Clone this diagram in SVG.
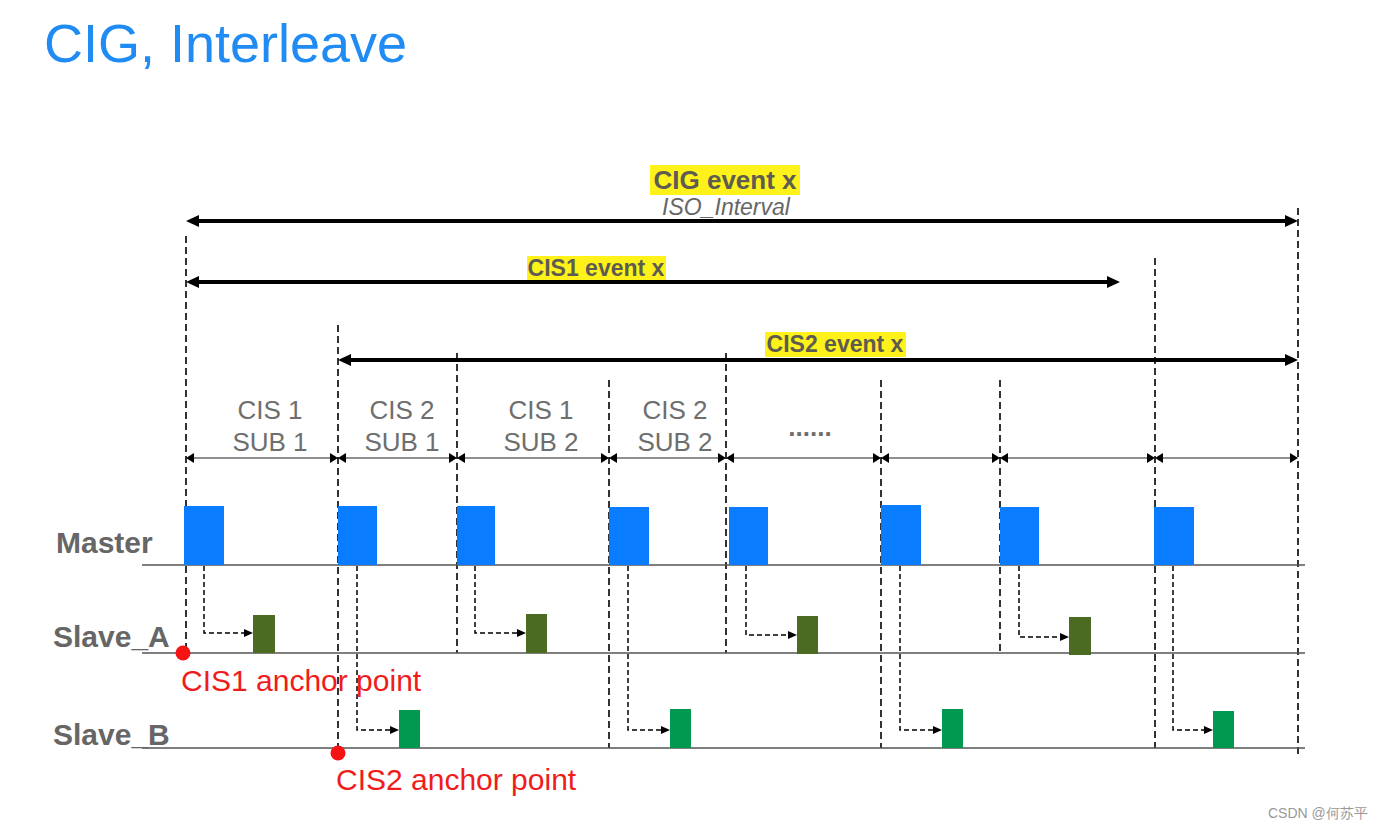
<svg xmlns="http://www.w3.org/2000/svg" width="1382" height="829" viewBox="0 0 1382 829">
<style>
text{font-family:"Liberation Sans",Arial,sans-serif}
.title{font-size:54px;fill:#1f8bf3}
.ev{font-weight:bold;fill:#5e5c50}
.hl{fill:#fff21a}
.iso{font-size:23px;font-style:italic;fill:#666}
.sub{font-size:26px;fill:#6e6e6e;text-anchor:middle}
.row{font-size:30px;font-weight:bold;fill:#666}
.red{font-size:30px;fill:#f01c1c}
.big{stroke:#000;stroke-width:4;fill:none;marker-start:url(#bh);marker-end:url(#bh)}
.thin{stroke:#6a6a6a;stroke-width:1.3;fill:none;marker-start:url(#th);marker-end:url(#th)}
.vd{stroke:#000;stroke-width:1.6;stroke-dasharray:7 4;fill:none}
.el{stroke:#000;stroke-width:1.5;stroke-dasharray:5 3;fill:none;marker-end:url(#eh)}
.base{stroke:#555;stroke-width:1.6}
.m{fill:#0a7cff}
.sa{fill:#4b6a22}
.sb{fill:#00994f}
.dot{fill:#f51414}
</style>
<defs>
<marker id="bh" markerUnits="userSpaceOnUse" markerWidth="14" markerHeight="14" refX="0" refY="7" orient="auto-start-reverse"><path d="M0,1 L13,7 L0,13 z" fill="#000"/></marker>
<marker id="th" markerUnits="userSpaceOnUse" markerWidth="9" markerHeight="12" refX="0" refY="6" orient="auto-start-reverse"><path d="M0,1 L8,6 L0,11 z" fill="#000"/></marker>
<marker id="eh" markerUnits="userSpaceOnUse" markerWidth="10" markerHeight="10" refX="0" refY="5" orient="auto"><path d="M0,1 L9,5 L0,9 z" fill="#000"/></marker>
</defs>
<rect width="1382" height="829" fill="#fff"/>
<text class="title" x="44" y="62">CIG, Interleave</text>

<g id="labels">
<rect class="hl" x="650" y="165" width="150" height="30"/>
<text class="ev" x="725" y="189" font-size="26" text-anchor="middle">CIG event x</text>
<text class="iso" x="726" y="215" text-anchor="middle">ISO_Interval</text>
<rect class="hl" x="527" y="256" width="139" height="24"/>
<text class="ev" x="596" y="276" font-size="23" text-anchor="middle">CIS1 event x</text>
<rect class="hl" x="765" y="332" width="141" height="25"/>
<text class="ev" x="835" y="352" font-size="23" text-anchor="middle">CIS2 event x</text>
</g>

<g id="connectors">
<line class="vd" x1="186" y1="236" x2="186" y2="650"/>
<line class="vd" x1="338" y1="325" x2="338" y2="750"/>
<line class="vd" x1="457" y1="353" x2="457" y2="653"/>
<line class="vd" x1="609" y1="380" x2="609" y2="748"/>
<line class="vd" x1="726" y1="353" x2="726" y2="653"/>
<line class="vd" x1="881" y1="380" x2="881" y2="748"/>
<line class="vd" x1="1000" y1="380" x2="1000" y2="653"/>
<line class="vd" x1="1155" y1="258" x2="1155" y2="748"/>
<line class="vd" x1="1298" y1="208" x2="1298" y2="754"/>

<line class="big" x1="199" y1="221" x2="1285" y2="221"/>
<line class="big" x1="199" y1="282" x2="1107" y2="282"/>
<line class="big" x1="351" y1="360" x2="1285" y2="360"/>

<line class="thin" x1="194" y1="458" x2="330" y2="458"/>
<line class="thin" x1="346" y1="458" x2="449" y2="458"/>
<line class="thin" x1="465" y1="458" x2="601" y2="458"/>
<line class="thin" x1="617" y1="458" x2="718" y2="458"/>
<line class="thin" x1="734" y1="458" x2="873" y2="458"/>
<line class="thin" x1="889" y1="458" x2="992" y2="458"/>
<line class="thin" x1="1008" y1="458" x2="1147" y2="458"/>
<line class="thin" x1="1163" y1="458" x2="1290" y2="458"/>

<line class="base" x1="142" y1="565" x2="1305" y2="565"/>
<line class="base" x1="142" y1="653" x2="1305" y2="653"/>
<line class="base" x1="142" y1="748" x2="1305" y2="748"/>

<path class="el" d="M204,566 V633 H244"/>
<path class="el" d="M475,566 V633 H517"/>
<path class="el" d="M746,566 V635 H788"/>
<path class="el" d="M1019,566 V637 H1060"/>
<path class="el" d="M357,566 V730 H390"/>
<path class="el" d="M628,566 V730 H661"/>
<path class="el" d="M900,566 V730 H933"/>
<path class="el" d="M1173,566 V730 H1204"/>
</g>

<g id="sublabels">
<text class="sub" x="270" y="419">CIS 1</text><text class="sub" x="270" y="451">SUB 1</text>
<text class="sub" x="402" y="419">CIS 2</text><text class="sub" x="402" y="451">SUB 1</text>
<text class="sub" x="541" y="419">CIS 1</text><text class="sub" x="541" y="451">SUB 2</text>
<text class="sub" x="675" y="419">CIS 2</text><text class="sub" x="675" y="451">SUB 2</text>
<text class="sub" x="810" y="436" font-weight="bold">......</text>
</g>

<g id="master">
<text class="row" x="56" y="553">Master</text>
<rect class="m" x="184" y="506" width="40" height="59"/>
<rect class="m" x="338" y="506" width="39" height="59"/>
<rect class="m" x="457" y="506" width="38" height="59"/>
<rect class="m" x="609" y="507" width="40" height="58"/>
<rect class="m" x="729" y="507" width="39" height="58"/>
<rect class="m" x="881" y="505" width="40" height="60"/>
<rect class="m" x="1000" y="507" width="39" height="58"/>
<rect class="m" x="1154" y="507" width="40" height="58"/>
</g>

<g id="slaveA">
<text class="row" x="53" y="647">Slave_A</text>
<rect class="sa" x="253" y="615" width="22" height="38"/>
<rect class="sa" x="526" y="614" width="21" height="39"/>
<rect class="sa" x="797" y="616" width="21" height="38"/>
<rect class="sa" x="1069" y="617" width="22" height="38"/>
</g>

<g id="slaveB">
<text class="row" x="53" y="745">Slave_B</text>
<rect class="sb" x="399" y="710" width="21" height="38"/>
<rect class="sb" x="670" y="709" width="21" height="39"/>
<rect class="sb" x="942" y="709" width="21" height="39"/>
<rect class="sb" x="1213" y="711" width="21" height="37"/>
</g>

<g id="anchor1">
<circle class="dot" cx="183" cy="653" r="7.5"/>
<text class="red" x="181" y="691">CIS1 anchor point</text>
</g>
<g id="anchor2">
<circle class="dot" cx="338" cy="753" r="7.5"/>
<text class="red" x="336" y="790">CIS2 anchor point</text>
</g>

<text x="1268" y="818" font-size="14" fill="#999" font-family="'Liberation Sans','Noto Sans CJK SC',sans-serif">CSDN @何苏平</text>
</svg>
